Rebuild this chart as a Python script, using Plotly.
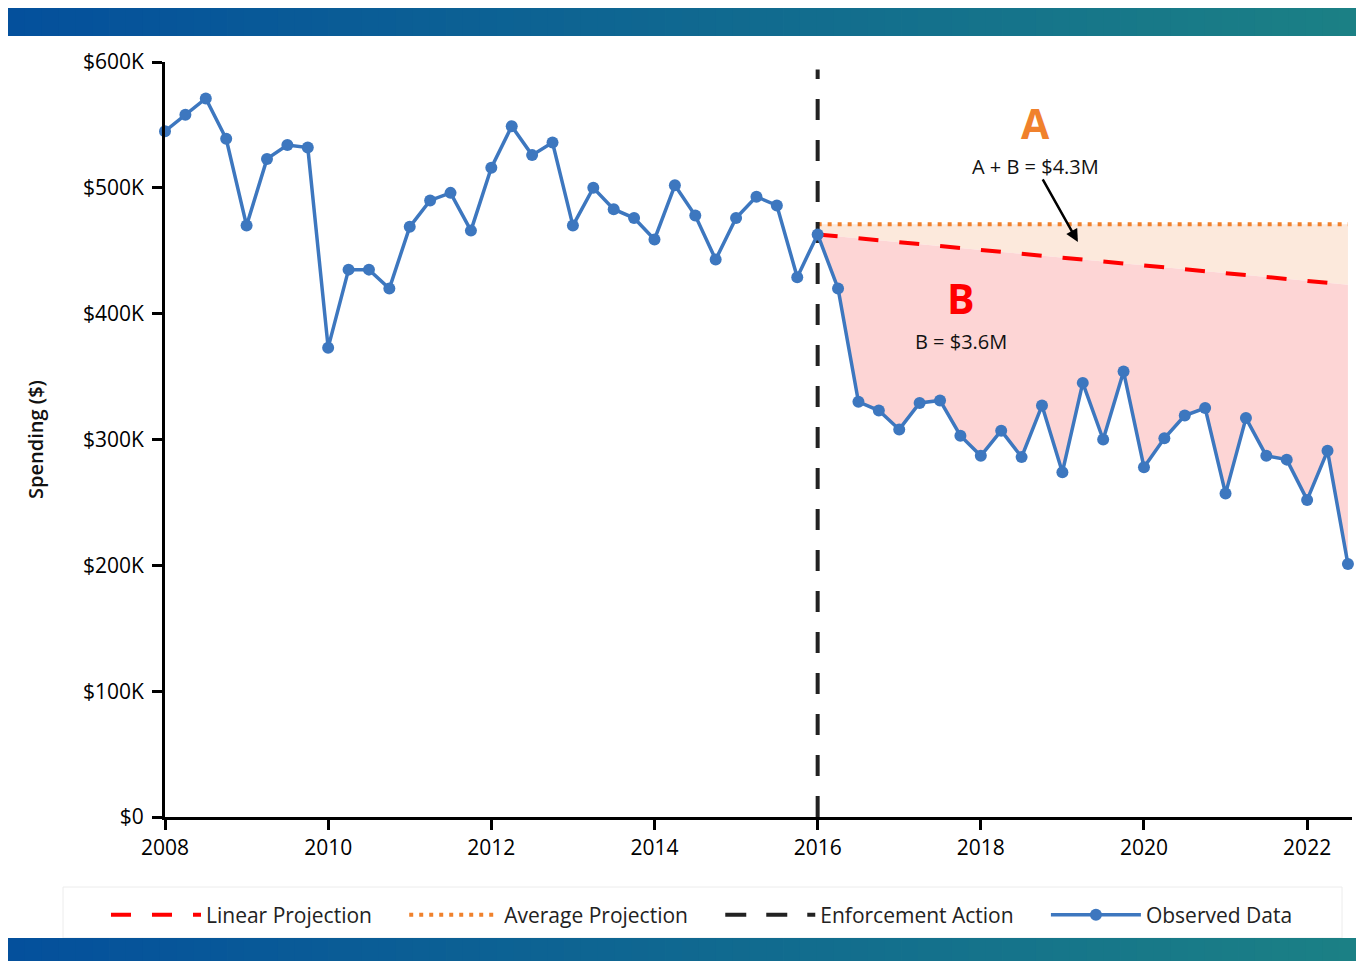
import plotly.graph_objects as go

# Quarterly time axis (fractional years)
quarters = [
    2008.00, 2008.25, 2008.50, 2008.75, 2009.00, 2009.25, 2009.50, 2009.75,
    2010.00, 2010.25, 2010.50, 2010.75, 2011.00, 2011.25, 2011.50, 2011.75,
    2012.00, 2012.25, 2012.50, 2012.75, 2013.00, 2013.25, 2013.50, 2013.75,
    2014.00, 2014.25, 2014.50, 2014.75, 2015.00, 2015.25, 2015.50, 2015.75,
    2016.00, 2016.25, 2016.50, 2016.75, 2017.00, 2017.25, 2017.50, 2017.75,
    2018.00, 2018.25, 2018.50, 2018.75, 2019.00, 2019.25, 2019.50, 2019.75,
    2020.00, 2020.25, 2020.50, 2020.75, 2021.00, 2021.25, 2021.50, 2021.75,
    2022.00, 2022.25, 2022.50,
]

# Observed quarterly spending, in thousands of dollars
spending_k = [
    545, 558, 571, 539, 470, 523, 534, 532,
    373, 435, 435, 420, 469, 490, 496, 466,
    516, 549, 526, 536, 470, 500, 483, 476,
    459, 502, 478, 443, 476, 493, 486, 429,
    463, 420, 330, 323, 308, 329, 331, 303,
    287, 307, 286, 327, 274, 345, 300, 354,
    278, 301, 319, 325, 257, 317, 287, 284,
    252, 291, 201,
]

enforcement_year = 2016.0
enforcement_top_k = 594

# Projection endpoints (thousands of dollars)
projection_x = [2016.0, 2022.5]
average_projection_k = [471, 471]
linear_projection_k = [463, 423]

y_tick_vals = [0, 100, 200, 300, 400, 500, 600]
y_tick_text = ["$0", "$100K", "$200K", "$300K", "$400K", "$500K", "$600K"]
x_tick_vals = [2008, 2010, 2012, 2014, 2016, 2018, 2020, 2022]

BLUE = "#3d77bf"
RED = "#ff0000"
ORANGE = "#f0812c"
FONT = "Open Sans"
PAD = "\u00a0" * 5  # extra spacing between legend entries

W, H = 1356, 961
M_L, M_R, M_T, M_B = 165, 4, 62, 144
PLOT_W = W - M_L - M_R
PLOT_H = H - M_T - M_B


def px_x(px):
    return (px - M_L) / PLOT_W


def px_y(py):
    return (H - M_B - py) / PLOT_H


post_idx = [i for i, q in enumerate(quarters) if q >= enforcement_year]
post_x = [quarters[i] for i in post_idx]
post_y = [spending_k[i] for i in post_idx]

fig = go.Figure()

# Average projection (orange dotted)
fig.add_trace(go.Scatter(
    x=projection_x, y=average_projection_k, mode="lines",
    name="Average Projection" + PAD, legendrank=2,
    line=dict(color=ORANGE, width=4, dash="4px,6px"),
))

# Area A: between the average and linear projections
fig.add_trace(go.Scatter(
    x=projection_x, y=linear_projection_k, mode="lines",
    showlegend=False, hoverinfo="skip",
    line=dict(width=0, color="rgba(0,0,0,0)"),
    fill="tonexty", fillcolor="#fce9dc",
))

# Linear projection (red dashed)
fig.add_trace(go.Scatter(
    x=projection_x, y=linear_projection_k, mode="lines",
    name="Linear Projection" + PAD, legendrank=1,
    line=dict(color=RED, width=4, dash="20px,21px"),
))

# Area B: between the linear projection and observed data after enforcement
fig.add_trace(go.Scatter(
    x=post_x, y=post_y, mode="lines", showlegend=False, hoverinfo="skip",
    line=dict(width=0, color="rgba(0,0,0,0)"),
    fill="tonexty", fillcolor="#fdd5d5",
))

# Enforcement action marker
fig.add_trace(go.Scatter(
    x=[enforcement_year, enforcement_year], y=[0, enforcement_top_k],
    mode="lines", name="Enforcement Action" + PAD, legendrank=3,
    line=dict(color="#222222", width=4, dash="21px,20px"),
))

# Observed data
fig.add_trace(go.Scatter(
    x=quarters, y=spending_k, mode="lines+markers",
    name="Observed Data", legendrank=4,
    line=dict(color=BLUE, width=3.5),
    marker=dict(color=BLUE, size=12),
    cliponaxis=False,
))

# Region labels: big letter sits just above its caption
A_X, B_X = 2018.674, 2017.755
A_SPLIT, B_SPLIT = 152, 327
annotations = [
    dict(xref="x", yref="paper", x=A_X, y=px_y(A_SPLIT), yanchor="bottom",
         text="<b>A</b>", showarrow=False, borderpad=0,
         font=dict(family=FONT, size=41, color=ORANGE)),
    dict(xref="x", yref="paper", x=A_X, y=px_y(A_SPLIT), yanchor="top",
         text="A + B = $4.3M", showarrow=False, borderpad=0,
         font=dict(family=FONT, size=20, color="#111111")),
    dict(xref="x", yref="paper", x=B_X, y=px_y(B_SPLIT), yanchor="bottom",
         text="<b>B</b>", showarrow=False, borderpad=0,
         font=dict(family=FONT, size=41, color=RED)),
    dict(xref="x", yref="paper", x=B_X, y=px_y(B_SPLIT), yanchor="top",
         text="B = $3.6M", showarrow=False, borderpad=0,
         font=dict(family=FONT, size=20, color="#111111")),
    dict(x=2019.19, y=457, text="", showarrow=True, ax=-36, ay=-64,
         arrowhead=2, arrowsize=1, arrowwidth=2.5, arrowcolor="#000000"),
]

# Gradient header / footer bands
shapes = []
N = 80
c0 = (4, 80, 156)
c1 = (27, 128, 133)
x_left, x_right = 8, 1356
for k in range(N):
    t = k / (N - 1)
    col = "rgb({},{},{})".format(*[round(a + (b - a) * t) for a, b in zip(c0, c1)])
    xa = x_left + (x_right - x_left) * k / N
    xb = x_left + (x_right - x_left) * (k + 1) / N + 0.8
    for (ya, yb) in [(8, 36), (938, 961)]:
        shapes.append(dict(
            type="rect", xref="paper", yref="paper",
            x0=px_x(xa), x1=px_x(xb), y0=px_y(yb), y1=px_y(ya),
            fillcolor=col, line=dict(width=0), layer="above",
        ))

# Legend frame
shapes.append(dict(
    type="rect", xref="paper", yref="paper",
    x0=px_x(63), x1=px_x(1342), y0=px_y(938), y1=px_y(887),
    fillcolor="rgba(0,0,0,0)", line=dict(color="#ececec", width=1),
    layer="below",
))

fig.update_layout(
    width=W, height=H,
    margin=dict(l=M_L, r=M_R, t=M_T, b=M_B, autoexpand=False),
    paper_bgcolor="white", plot_bgcolor="white",
    font=dict(family=FONT, color="#111111"),
    showlegend=True,
    legend=dict(
        orientation="h", x=px_x(702), xanchor="center",
        y=px_y(915), yanchor="middle",
        font=dict(family=FONT, size=21, color="#222222"),
        itemwidth=90, bgcolor="rgba(0,0,0,0)", borderwidth=0,
        traceorder="normal",
    ),
    annotations=annotations,
    shapes=shapes,
    xaxis=dict(
        range=[2008, 2022.55], tickvals=x_tick_vals,
        showgrid=False, zeroline=False,
        showline=True, linecolor="#000000", linewidth=3,
        ticks="outside", ticklen=10, tickwidth=3, tickcolor="#000000",
        tickfont=dict(family=FONT, size=21, color="#000000"),
    ),
    yaxis=dict(
        range=[0, 600], tickvals=y_tick_vals, ticktext=y_tick_text,
        showgrid=False, zeroline=False,
        showline=True, linecolor="#000000", linewidth=3,
        ticks="outside", ticklen=10, tickwidth=3, tickcolor="#000000",
        ticklabelstandoff=4,
        tickfont=dict(family=FONT, size=21, color="#000000"),
        title=dict(text="Spending ($)", standoff=34,
                   font=dict(family=FONT, size=20, color="#111111", weight=600)),
    ),
)

fig.write_html("out.html")
